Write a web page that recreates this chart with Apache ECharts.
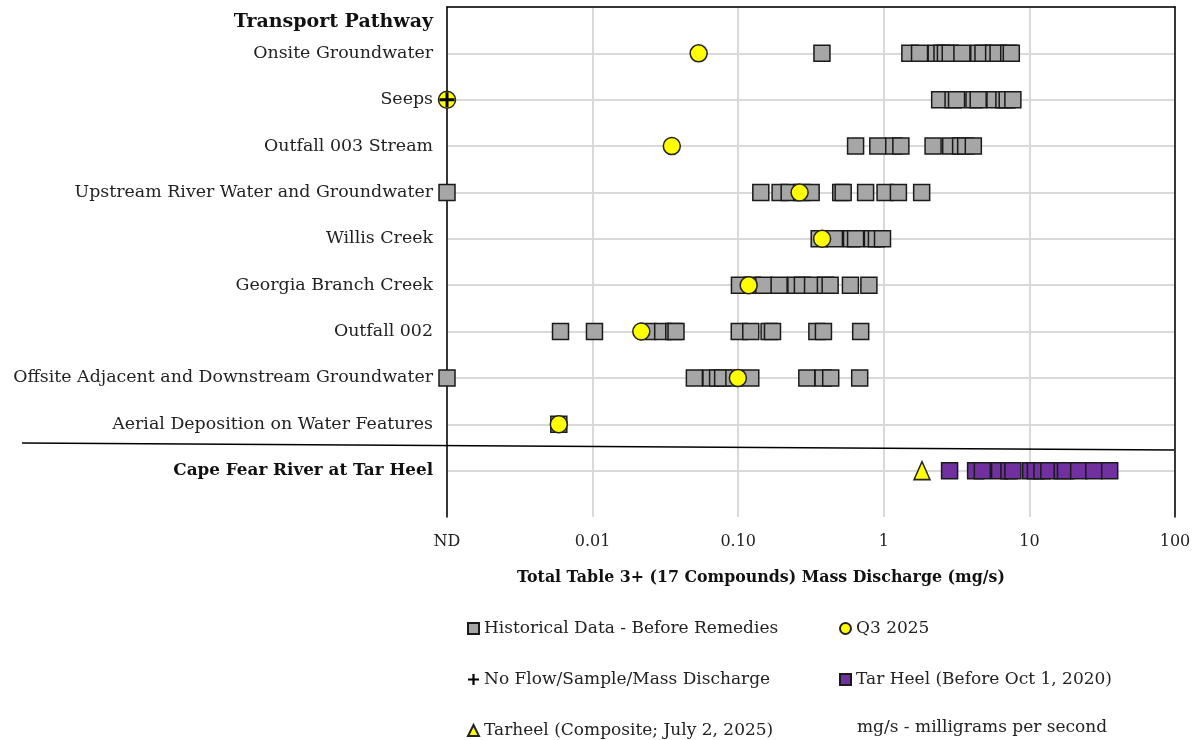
<!DOCTYPE html>
<html>
<head>
<meta charset="utf-8">
<script src="https://cdn.jsdelivr.net/npm/echarts@6.0.0/dist/echarts.min.js"></script>
<style>
  html, body { margin: 0; padding: 0; background: #fff; }
  #chart { width: 1200px; height: 740px; }
</style>
</head>
<body>
<div id="chart"></div>
<script>
// rows, bottom to top (row position = index + 1)
const pathways = [
  'Cape Fear River at Tar Heel',
  'Aerial Deposition on Water Features',
  'Offsite Adjacent and Downstream Groundwater',
  'Outfall 002',
  'Georgia Branch Creek',
  'Willis Creek',
  'Upstream River Water and Groundwater',
  'Outfall 003 Stream',
  'Seeps',
  'Onsite Groundwater'
];
const heading = 'Transport Pathway';
const ND = 0.001; // non-detect plotted at the axis minimum

// historical data (mg/s), one list per pathway
const histOnsite = [0.376, 1.51, 1.76, 2.29, 2.51, 2.65, 2.86, 3.44, 4.49, 4.80, 5.68, 6.09, 7.21, 7.51];
const histSeeps = [2.42, 2.99, 3.16, 4.16, 4.45, 5.80, 6.68, 7.04, 7.70];
const histOutfall003 = [0.64, 0.91, 1.17, 1.31, 2.18, 2.88, 3.37, 3.65, 4.12];
const histUpstream = [ND, 0.143, 0.194, 0.224, 0.273, 0.317, 0.506, 0.526, 0.75, 1.02, 1.26, 1.82];
const histWillis = [0.36, 0.458, 0.60, 0.64, 0.835, 0.89, 0.98];
const histGeorgia = [0.102, 0.125, 0.15, 0.191, 0.249, 0.276, 0.324, 0.397, 0.428, 0.59, 0.79];
const histOutfall002 = [0.00602, 0.0103, 0.024, 0.0303, 0.0361, 0.0374, 0.1017, 0.122, 0.163, 0.172, 0.347, 0.385, 0.694];
const histOffsite = [ND, 0.050, 0.065, 0.0722, 0.0782, 0.0934, 0.122, 0.296, 0.383, 0.432, 0.683];
const histAerial = [0.00586];
const histByRow = {
  'Onsite Groundwater': histOnsite,
  'Seeps': histSeeps,
  'Outfall 003 Stream': histOutfall003,
  'Upstream River Water and Groundwater': histUpstream,
  'Willis Creek': histWillis,
  'Georgia Branch Creek': histGeorgia,
  'Outfall 002': histOutfall002,
  'Offsite Adjacent and Downstream Groundwater': histOffsite,
  'Aerial Deposition on Water Features': histAerial
};

// Q3 2025, same order as pathways (null = none)
const q3Values = [null, 0.00586, 0.0995, 0.0216, 0.118, 0.377, 0.264, 0.035, ND, 0.0535];
// Cape Fear River at Tar Heel
const tarHeelBefore = [2.83, 4.27, 4.75, 6.24, 7.23, 7.71, 10.2, 11.0, 12.2, 13.6, 16.8, 17.7, 21.8, 27.7, 35.6];
const tarHeelComposite = [1.83];
// no flow / sample / mass discharge
const noFlowRows = ['Seeps'];

const xTicks = { 0.001: 'ND', 0.01: '0.01', 0.1: '0.10', 1: '1', 10: '10', 100: '100' };

const FONT = 'DejaVu Serif';
const rowOf = name => pathways.indexOf(name) + 1;

const histData = [];
Object.keys(histByRow).forEach(name => {
  histByRow[name].forEach(v => histData.push([v, rowOf(name)]));
});
const q3Data = q3Values.map((v, i) => v == null ? null : [v, i + 1]).filter(d => d);
const tarBeforeData = tarHeelBefore.map(v => [v, rowOf('Cape Fear River at Tar Heel')]);
const tarCompData = tarHeelComposite.map(v => [v, rowOf('Cape Fear River at Tar Heel')]);
const noFlowData = noFlowRows.map(n => [ND, rowOf(n)]);

const plusPath = 'path://M4,0H6V4H10V6H6V10H4V6H0V4H4Z';

const legendText = { fontSize: 17, fontFamily: FONT, color: '#222', lineHeight: 16 };

const chart = echarts.init(document.getElementById('chart'));
chart.setOption({
  animation: false,
  textStyle: { fontFamily: FONT },
  grid: { left: 447, right: 25, top: 7, bottom: 223 },
  xAxis: [
    {
      type: 'log',
      min: 0.001,
      max: 100,
      logBase: 10,
      axisLine: { show: false },
      axisTick: { show: false },
      axisLabel: {
        color: '#222',
        fontSize: 16,
        margin: 17,
        fontFamily: FONT,
        formatter: v => xTicks[v] != null ? xTicks[v] : ''
      },
      splitLine: { show: true, lineStyle: { color: '#d9d9d9', width: 2 } },
      minorSplitLine: { show: false }
    },
    {
      type: 'log',
      min: 0.001,
      max: 100,
      position: 'top',
      axisLine: { show: true, onZero: false, lineStyle: { color: '#000', width: 1.5 } },
      axisTick: { show: false },
      axisLabel: { show: false },
      splitLine: { show: false }
    }
  ],
  yAxis: [
    {
      type: 'value',
      min: 0,
      max: 11,
      interval: 1,
      axisLine: { show: true, onZero: false, lineStyle: { color: '#000', width: 1.5 } },
      axisTick: { show: false },
      splitLine: { show: true, showMinLine: false, lineStyle: { color: '#d9d9d9', width: 2 } },
      axisLabel: {
        color: '#222',
        fontSize: 17.4,
        margin: 14,
        fontFamily: FONT,
        formatter: v => {
          if (v === 11) return '{h|' + heading + '}';
          if (v < 1) return '';
          const name = pathways[v - 1];
          return v === 1 ? '{b|' + name + '}' : name;
        },
        rich: {
          b: { fontWeight: 'bold', fontSize: 16.8, fontFamily: FONT, color: '#111' },
          h: { fontWeight: 'bold', fontSize: 19, fontFamily: FONT, color: '#111', padding: [30, 0, 0, 0] }
        }
      }
    },
    {
      type: 'value',
      min: 0,
      max: 11,
      position: 'right',
      axisLine: { show: true, onZero: false, lineStyle: { color: '#000', width: 1.5 } },
      axisTick: { show: false },
      axisLabel: { show: false },
      splitLine: { show: false }
    }
  ],
  legend: [
    {
      orient: 'vertical',
      left: 467,
      top: 620,
      padding: 0,
      itemWidth: 11,
      itemHeight: 11,
      itemGap: 34,
      textStyle: legendText,
      data: ['Historical Data - Before Remedies', 'No Flow/Sample/Mass Discharge', 'Tarheel (Composite; July 2, 2025)']
    },
    {
      orient: 'vertical',
      left: 839,
      top: 620,
      padding: 0,
      itemWidth: 11,
      itemHeight: 11,
      itemGap: 34,
      textStyle: legendText,
      data: ['Q3 2025', 'Tar Heel (Before Oct 1, 2020)']
    }
  ],
  graphic: [
    {
      type: 'line',
      shape: { x1: 22, y1: 443, x2: 1174, y2: 450 },
      style: { stroke: '#000', lineWidth: 1.5 },
      z: 10
    },
    {
      type: 'text',
      x: 761,
      y: 578,
      style: {
        text: 'Total Table 3+ (17 Compounds) Mass Discharge (mg/s)',
        fontSize: 15.8,
        fontWeight: 'bold',
        fontFamily: FONT,
        fill: '#111',
        align: 'center',
        verticalAlign: 'middle'
      }
    },
    {
      type: 'text',
      x: 857,
      y: 728,
      style: {
        text: 'mg/s - milligrams per second',
        fontSize: 17,
        fontFamily: FONT,
        fill: '#222',
        align: 'left',
        verticalAlign: 'middle'
      }
    }
  ],
  series: [
    {
      name: 'Historical Data - Before Remedies',
      type: 'scatter',
      symbol: 'rect',
      symbolSize: 16,
      clip: false,
      itemStyle: { color: '#a6a6a6', borderColor: '#1a1a1a', borderWidth: 1.5, opacity: 1 },
      data: histData,
      z: 2
    },
    {
      name: 'Tar Heel (Before Oct 1, 2020)',
      type: 'scatter',
      symbol: 'rect',
      symbolSize: 16,
      clip: false,
      itemStyle: { color: '#7030a0', borderColor: '#1a1a1a', borderWidth: 1.5, opacity: 1 },
      data: tarBeforeData,
      z: 2
    },
    {
      name: 'Q3 2025',
      type: 'scatter',
      symbol: 'circle',
      symbolSize: 17,
      clip: false,
      itemStyle: { color: '#ffff00', borderColor: '#222', borderWidth: 1.5, opacity: 1 },
      data: q3Data,
      z: 3
    },
    {
      name: 'Tarheel (Composite; July 2, 2025)',
      type: 'scatter',
      symbol: 'triangle',
      symbolSize: [16, 18],
      clip: false,
      itemStyle: { color: '#ffff00', borderColor: '#222', borderWidth: 1.5, opacity: 1 },
      data: tarCompData,
      z: 3
    },
    {
      name: 'No Flow/Sample/Mass Discharge',
      type: 'scatter',
      symbol: plusPath,
      symbolSize: 15,
      clip: false,
      itemStyle: { color: '#000', opacity: 1 },
      data: noFlowData,
      z: 4
    }
  ]
});
</script>
</body>
</html>
